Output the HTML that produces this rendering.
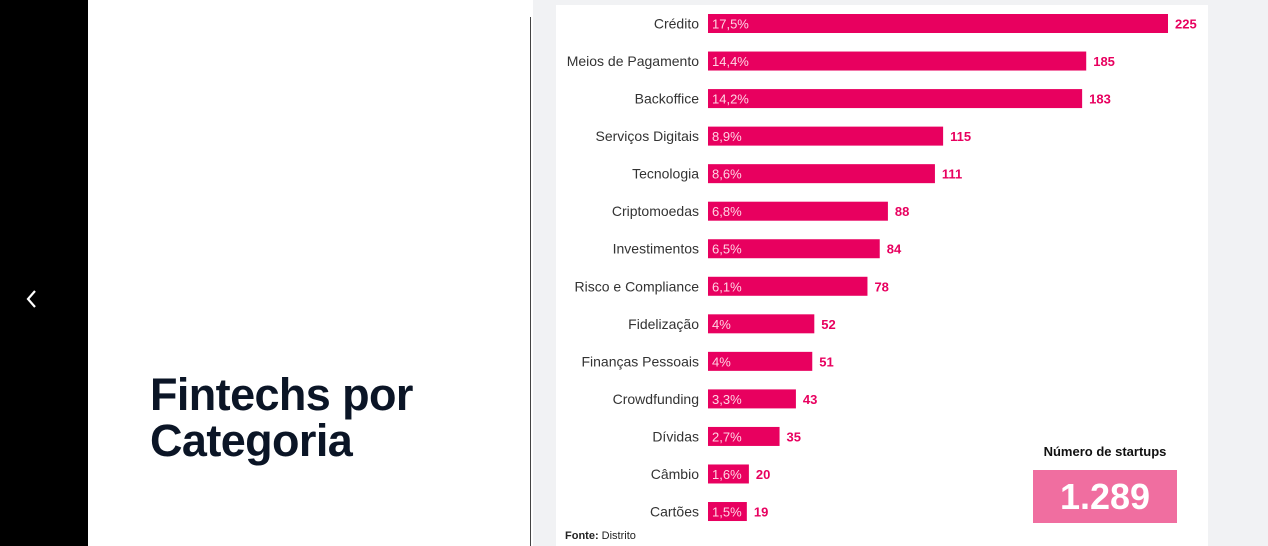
<!DOCTYPE html>
<html><head><meta charset="utf-8"><style>
body{margin:0;width:1268px;height:546px;overflow:hidden;background:#fff;font-family:"Liberation Sans",sans-serif;position:relative}
.abs{position:absolute}
</style></head><body>
<div class="abs" style="left:0;top:0;width:88px;height:546px;background:#000"></div>
<svg class="abs" style="left:24px;top:289px" width="16" height="20"><path d="M11 2 L4 10 L11 18" stroke="#fff" stroke-width="2.2" fill="none"/></svg>
<div class="abs" style="left:150px;top:372px;font-size:45px;font-weight:bold;line-height:46px;color:#0b1526;letter-spacing:-0.6px">Fintechs por<br>Categoria</div>
<div class="abs" style="left:530px;top:17px;width:1px;height:529px;background:#444"></div>
<div class="abs" style="left:533px;top:0;width:735px;height:546px;background:#f1f2f4"></div>
<div class="abs" style="left:556px;top:5px;width:652px;height:541px;background:#fff"></div>
<svg class="abs" id="chart" style="left:0;top:0" width="1268" height="546"></svg>
<div class="abs" style="left:565px;top:530px;font-size:11px;color:#222"><b>Fonte:</b> Distrito</div>
<div class="abs" style="left:1005px;top:444px;width:200px;text-align:center;font-size:13px;font-weight:bold;color:#111">Número de startups</div>
<div class="abs" style="left:1033px;top:470px;width:144px;height:53px;background:#f06ea0;color:#fff;font-size:36px;font-weight:bold;text-align:center;line-height:53px">1.289</div>
<script>
const categories=["Crédito","Meios de Pagamento","Backoffice","Serviços Digitais","Tecnologia","Criptomoedas","Investimentos","Risco e Compliance","Fidelização","Finanças Pessoais","Crowdfunding","Dívidas","Câmbio","Cartões"];
const counts=[225,185,183,115,111,88,84,78,52,51,43,35,20,19];
const shares=["17,5%","14,4%","14,2%","8,9%","8,6%","6,8%","6,5%","6,1%","4%","4%","3,3%","2,7%","1,6%","1,5%"];
const svg=document.getElementById('chart');
const NS='http://www.w3.org/2000/svg';
const x0=708, pxPerUnit=460/225;
const xScale=v=>v*pxPerUnit;
const yScale=i=>23.5+i*37.54;
function mk(tag,attrs,txt){const e=document.createElementNS(NS,tag);for(const k in attrs)e.setAttribute(k,attrs[k]);if(txt!==undefined)e.textContent=txt;svg.appendChild(e);return e;}
categories.forEach((c,i)=>{
 const y=yScale(i), w=xScale(counts[i]);
 const l=mk('text',{x:699,y:y+5,'text-anchor':'end','font-size':14,fill:'#333','font-family':'Liberation Sans, sans-serif'},c);
 
 
 const r=mk('rect',{x:x0,y:y-9.5,width:w,height:19,fill:'#e8005f'});
 
 
 const s=mk('text',{x:x0+4,y:y+5,'font-size':13,fill:'#ffd3e4','font-family':'Liberation Sans, sans-serif'},shares[i]);
 
 
 const v=mk('text',{x:x0+w+7,y:y+5,'font-size':13,'font-weight':'bold',fill:'#e8005f','font-family':'Liberation Sans, sans-serif'},counts[i]);
 
 
});
</script>
</body></html>
